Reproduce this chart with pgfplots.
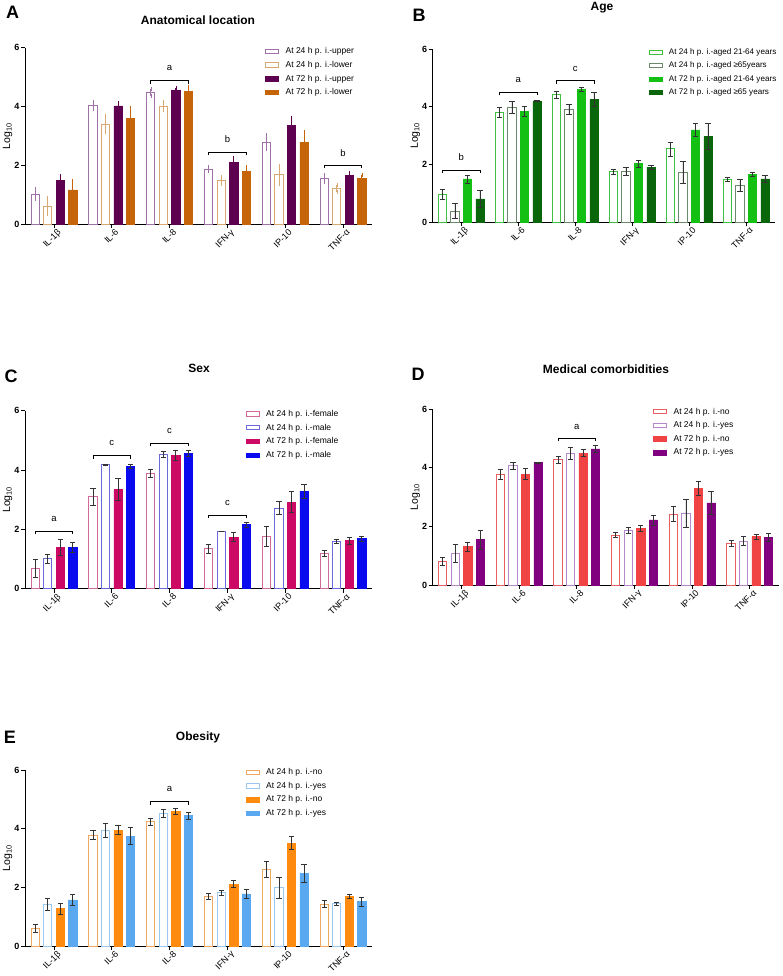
\documentclass[border=0pt]{standalone}
\usepackage{pgfplots}
\pgfplotsset{compat=1.18}
\usepackage{fontspec}
\setmainfont{Liberation Sans}

% colours
\definecolor{a1}{HTML}{A070A8}\definecolor{a2}{HTML}{D8A870}\definecolor{a3}{HTML}{5E0050}\definecolor{a4}{HTML}{C6640A}
\definecolor{b1}{HTML}{40C040}\definecolor{b2}{HTML}{6A8A6A}\definecolor{b3}{HTML}{14C014}\definecolor{b4}{HTML}{0A660A}
\definecolor{c1}{HTML}{D06A98}\definecolor{c2}{HTML}{6A6AD8}\definecolor{c3}{HTML}{CC0A66}\definecolor{c4}{HTML}{0A0AEE}
\definecolor{d1}{HTML}{E86060}\definecolor{d2}{HTML}{B888CC}\definecolor{d3}{HTML}{F04444}\definecolor{d4}{HTML}{800080}
\definecolor{e1}{HTML}{F0A860}\definecolor{e2}{HTML}{9CC8F0}\definecolor{e3}{HTML}{FF8A10}\definecolor{e4}{HTML}{5AA8F0}
\definecolor{eb}{HTML}{333333}

\pgfplotsset{
  boxlegend/.style={legend image code/.code={\draw[##1] (0pt,-2.2pt) rectangle (13pt,2.2pt);}},
  panel/.style={
    scale only axis, clip=false,
    xmin=-0.5, xmax=5.5, ymin=0, ymax=6,
    axis x line*=bottom, axis y line*=left,
    axis line style={line width=1pt},
    tick style={line width=0.8pt, black},
    tick align=outside, major tick length=4pt,
    xtick={0,1,2,3,4,5},
    xticklabels={IL-1β,IL-6,IL-8,IFN-γ,IP-10,TNF-α},
    ytick={0,2,4,6},
    /pgf/number format/assume math mode=true,
    x tick label style={rotate=45, anchor=north east, font=\fontsize{9}{10}\selectfont, inner sep=1pt, xshift=3pt, yshift=-1pt},
    y tick label style={font=\bfseries\fontsize{9}{10}\selectfont, inner sep=1.5pt},
    ylabel={Log\textsubscript{10}},
    ylabel style={font=\fontsize{10.5}{12}\selectfont},
    ylabel shift=-3pt,
    ybar=4.2pt, bar width=8.3pt,
    legend style={draw=none, fill=none, anchor=north west, font=\fontsize{8.5}{9.5}\selectfont, row sep=2pt, column sep=4.5pt, inner sep=0pt, outer sep=0pt},
    legend cell align=left,
    every axis plot post/.append style={boxlegend},
    error bars/y dir=both, error bars/y explicit,
  },
  openbar/.style={fill=white, draw=#1, line width=1pt,
    error bars/error bar style={line width=0.7pt, eb},
    error bars/error mark options={rotate=90, mark size=2.6pt, line width=0.7pt, eb}},
  fillbar/.style={fill=#1, draw=#1, line width=0.6pt,
    error bars/error bar style={line width=0.7pt, eb},
    error bars/error mark options={rotate=90, mark size=2.6pt, line width=0.7pt, eb}},
}
\newcommand{\brk}[4]{%
  \draw[line width=0.9pt] ([xshift=-18.75pt,yshift=-3pt]axis cs:#1,#2) -- ([xshift=-18.75pt]axis cs:#1,#2) -- ([xshift=18.75pt]axis cs:#1,#2) -- ([xshift=18.75pt,yshift=-3pt]axis cs:#1,#2);
  \node[font=\fontsize{9.5}{10}\selectfont] at (axis cs:#1,#3) {#4};}

\begin{document}
\begin{tikzpicture}
\useasboundingbox (0,0) rectangle (782pt,-976pt);

% ---------------- A
\begin{axis}[panel, at={(25pt,-224.3pt)}, anchor=south west, width=347pt, height=176.6pt,
  legend style={at={(rel axis cs:0.692,1.012)}}]
\addplot[openbar=a1, error bars/error bar style={a1}, error bars/error mark options={a1}] coordinates {(0,1.02)+-(0,0.17) (1,4.04)+-(0,0.12) (2,4.48)+-(0,0.12) (3,1.87)+-(0,0.06) (4,2.79)+-(0,0.24) (5,1.56)+-(0,0.12)};
\addplot[openbar=a2, error bars/error bar style={a2}, error bars/error mark options={a2}] coordinates {(0,0.62)+-(0,0.28) (1,3.40)+-(0,0.28) (2,4.01)+-(0,0.13) (3,1.49)+-(0,0.13) (4,1.68)+-(0,0.31) (5,1.22)+-(0,0.11)};
\addplot[fillbar=a3, error bars/error bar style={a3}, error bars/error mark options={a3}] coordinates {(0,1.48)+-(0,0.16) (1,4.02)+-(0,0.11) (2,4.55)+-(0,0.08) (3,2.11)+-(0,0.14) (4,3.36)+-(0,0.24) (5,1.66)+-(0,0.07)};
\addplot[fillbar=a4, error bars/error bar style={a4}, error bars/error mark options={a4}] coordinates {(0,1.17)+-(0,0.30) (1,3.60)+-(0,0.34) (2,4.51)+-(0,0.17) (3,1.81)+-(0,0.13) (4,2.79)+-(0,0.34) (5,1.57)+-(0,0.10)};
\legend{At 24 h p. i.-upper, At 24 h p. i.-lower, At 72 h p. i.-upper, At 72 h p. i.-lower}
\brk{2}{4.88}{5.3}{a}
\brk{3}{2.45}{2.89}{b}
\brk{5}{2.0}{2.41}{b}
\end{axis}

% ---------------- B
\begin{axis}[panel, at={(432.7pt,-222.3pt)}, anchor=south west, width=342pt, height=173.3pt,
  legend style={at={(rel axis cs:0.632,1.014)}, font=\fontsize{8.1}{9.5}\selectfont, column sep=4pt}]
\addplot[openbar=b1] coordinates {(0,0.97)+-(0,0.16) (1,3.81)+-(0,0.16) (2,4.41)+-(0,0.11) (3,1.75)+-(0,0.08) (4,2.54)+-(0,0.24) (5,1.49)+-(0,0.08)};
\addplot[openbar=b2] coordinates {(0,0.39)+-(0,0.25) (1,3.98)+-(0,0.20) (2,3.91)+-(0,0.17) (3,1.75)+-(0,0.14) (4,1.72)+-(0,0.38) (5,1.29)+-(0,0.21)};
\addplot[fillbar=b3] coordinates {(0,1.50)+-(0,0.14) (1,3.83)+-(0,0.17) (2,4.60)+-(0,0.07) (3,2.03)+-(0,0.12) (4,3.20)+-(0,0.23) (5,1.67)+-(0,0.07)};
\addplot[fillbar=b4] coordinates {(0,0.81)+-(0,0.29) (1,4.20)+-(0,0.02) (2,4.25)+-(0,0.24) (3,1.90)+-(0,0.08) (4,2.97)+-(0,0.46) (5,1.50)+-(0,0.13)};
\legend{At 24 h p. i.-aged 21-64 years, At 24 h p. i.-aged ≥65years, At 72 h p. i.-aged 21-64 years, At 72 h p. i.-aged ≥65 years}
\brk{0}{1.81}{2.27}{b}
\brk{1}{4.5}{4.93}{a}
\brk{2}{4.9}{5.31}{c}
\end{axis}

% ---------------- C
\begin{axis}[panel, at={(25pt,-588.7pt)}, anchor=south west, width=347pt, height=178pt,
  legend style={at={(rel axis cs:0.636,1.014)}}]
\addplot[openbar=c1] coordinates {(0,0.69)+-(0,0.31) (1,3.10)+-(0,0.29) (2,3.89)+-(0,0.15) (3,1.35)+-(0,0.15) (4,1.76)+-(0,0.34) (5,1.19)+-(0,0.11)};
\addplot[openbar=c2] coordinates {(0,1.01)+-(0,0.15) (1,4.17)+-(0,0.01) (2,4.52)+-(0,0.10) (3,1.94)+-(0,0.01) (4,2.71)+-(0,0.22) (5,1.60)+-(0,0.07)};
\addplot[fillbar=c3] coordinates {(0,1.40)+-(0,0.28) (1,3.35)+-(0,0.38) (2,4.48)+-(0,0.17) (3,1.74)+-(0,0.16) (4,2.92)+-(0,0.35) (5,1.62)+-(0,0.11)};
\addplot[fillbar=c4] coordinates {(0,1.40)+-(0,0.16) (1,4.12)+-(0,0.07) (2,4.56)+-(0,0.09) (3,2.16)+-(0,0.09) (4,3.29)+-(0,0.23) (5,1.69)+-(0,0.08)};
\legend{At 24 h p. i.-female, At 24 h p. i.-male, At 72 h p. i.-female, At 72 h p. i.-male}
\brk{0}{1.94}{2.35}{a}
\brk{1}{4.48}{4.9}{c}
\brk{2}{4.9}{5.31}{c}
\brk{3}{2.48}{2.9}{c}
\end{axis}

% ---------------- D
\begin{axis}[panel, at={(432.7pt,-585pt)}, anchor=south west, width=346pt, height=176pt,
  legend style={at={(rel axis cs:0.637,1.018)}}]
\addplot[openbar=d1] coordinates {(0,0.80)+-(0,0.14) (1,3.77)+-(0,0.18) (2,4.27)+-(0,0.11) (3,1.70)+-(0,0.08) (4,2.42)+-(0,0.25) (5,1.42)+-(0,0.10)};
\addplot[openbar=d2] coordinates {(0,1.08)+-(0,0.32) (1,4.07)+-(0,0.12) (2,4.49)+-(0,0.21) (3,1.86)+-(0,0.10) (4,2.44)+-(0,0.47) (5,1.50)+-(0,0.15)};
\addplot[fillbar=d3] coordinates {(0,1.31)+-(0,0.16) (1,3.78)+-(0,0.18) (2,4.50)+-(0,0.12) (3,1.92)+-(0,0.10) (4,3.30)+-(0,0.25) (5,1.65)+-(0,0.08)};
\addplot[fillbar=d4] coordinates {(0,1.55)+-(0,0.32) (1,4.17)+-(0,0.01) (2,4.64)+-(0,0.12) (3,2.22)+-(0,0.17) (4,2.80)+-(0,0.39) (5,1.63)+-(0,0.14)};
\legend{At 24 h p. i.-no, At 24 h p. i.-yes, At 72 h p. i.-no, At 72 h p. i.-yes}
\brk{2}{5.0}{5.4}{a}
\end{axis}

% ---------------- E
\begin{axis}[panel, at={(25pt,-946pt)}, anchor=south west, width=347pt, height=176pt,
  legend style={at={(rel axis cs:0.636,1.02)}}]
\addplot[openbar=e1] coordinates {(0,0.60)+-(0,0.14) (1,3.78)+-(0,0.15) (2,4.24)+-(0,0.12) (3,1.69)+-(0,0.09) (4,2.61)+-(0,0.28) (5,1.43)+-(0,0.12)};
\addplot[openbar=e2] coordinates {(0,1.42)+-(0,0.21) (1,3.95)+-(0,0.23) (2,4.52)+-(0,0.14) (3,1.82)+-(0,0.08) (4,1.98)+-(0,0.37) (5,1.45)+-(0,0.05)};
\addplot[fillbar=e3] coordinates {(0,1.27)+-(0,0.18) (1,3.95)+-(0,0.15) (2,4.59)+-(0,0.09) (3,2.11)+-(0,0.12) (4,3.51)+-(0,0.23) (5,1.69)+-(0,0.07)};
\addplot[fillbar=e4] coordinates {(0,1.57)+-(0,0.20) (1,3.75)+-(0,0.30) (2,4.44)+-(0,0.12) (3,1.78)+-(0,0.16) (4,2.48)+-(0,0.30) (5,1.51)+-(0,0.15)};
\legend{At 24 h p. i.-no, At 24 h p. i.-yes, At 72 h p. i.-no, At 72 h p. i.-yes}
\brk{2}{4.92}{5.35}{a}
\end{axis}

% titles and panel letters
\tikzset{ttl/.style={font=\bfseries\fontsize{12}{14}\selectfont}, lett/.style={font=\bfseries\fontsize{18}{20}\selectfont}}
\node[ttl] at (198pt,-20pt) {Anatomical location};
\node[ttl] at (602pt,-8pt) {Age};
\node[ttl] at (199pt,-368pt) {Sex};
\node[ttl] at (606pt,-369pt) {Medical comorbidities};
\node[ttl] at (198pt,-737pt) {Obesity};
\node[lett] at (12.7pt,-12pt) {A};
\node[lett] at (419pt,-15pt) {B};
\node[lett] at (11pt,-376pt) {C};
\node[lett] at (418pt,-374pt) {D};
\node[lett] at (10pt,-737pt) {E};
\end{tikzpicture}
\end{document}
